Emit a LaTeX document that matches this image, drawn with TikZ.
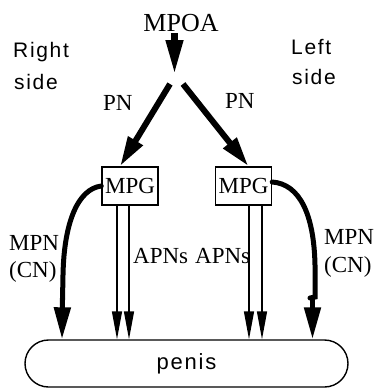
\documentclass[tikz,border=0pt]{standalone}
\usepackage{fontspec}
\setmainfont{Liberation Serif}
\newfontfamily\labelsans[LetterSpace=8]{Liberation Sans}
\usetikzlibrary{arrows.meta}
\begin{document}
\begin{tikzpicture}[x=1pt,y=-1pt,
  serif/.style={font=\fontsize{23}{26}\selectfont, inner sep=0pt},
  sidelabel/.style={font=\labelsans\fontsize{21}{24}\selectfont, inner sep=0pt, anchor=base west},
  ganglion/.style={draw, line width=1.4pt, minimum width=56pt, minimum height=38pt, inner sep=0pt,
    font=\fontsize{23}{26}\selectfont},
  nerve/.style={line width=6pt, -{Triangle[length=30pt,width=16pt]}},
  pelvic/.style={line width=5pt, line cap=round},
  pelvichead/.style={line width=5pt, -{Triangle[length=32pt,width=16pt]}},
  accessory/.style={line width=1.4pt, -{Triangle[length=28pt,width=10pt]}}
]
\useasboundingbox (0,0) rectangle (373,389);

% labels
\node[serif, font=\fontsize{26}{28}\selectfont, anchor=base] (mpoa) at (181,31) {MPOA};
\node[sidelabel] (right1) at (13,57) {Right};
\node[sidelabel] (right2) at (14,89) {side};
\node[sidelabel] (left1) at (291,54) {Left};
\node[sidelabel] (left2) at (292,84) {side};
\node[serif, anchor=base west] (pnL) at (103,110) {PN};
\node[serif, anchor=base west] (pnR) at (225,108) {PN};
\node[serif, anchor=base west] (mpnL) at (9,250) {MPN};
\node[serif, anchor=base west] (cnL) at (9,277) {(CN)};
\node[serif, anchor=base west] (mpnR) at (324,244) {MPN};
\node[serif, anchor=base west] (cnR) at (324,272) {(CN)};
\node[serif, anchor=base west] (apnL) at (133,263) {APNs};
\node[serif, anchor=base west] (apnR) at (195,263) {APNs};

% ganglia and target
\node[ganglion] (mpgL) at (130,186) {MPG};
\node[ganglion] (mpgR) at (243.5,186) {MPG};
\node[draw, line width=1.4pt, minimum width=323pt, minimum height=47pt, rounded corners=23.5pt,
  font=\labelsans\fontsize{22}{26}\selectfont] (penis) at (186.5,363.5) {penis};

% descending pathway from MPOA
\coordinate (mpoaOut) at (174.5,33);
\coordinate (fork) at (174.5,75);
\coordinate (forkL) at (170,84);
\coordinate (forkR) at (183,84);
\draw[line width=7pt, -{Triangle[length=35pt,width=16pt]}] (mpoaOut) -- (fork);
\draw[nerve] (forkL) -- ([xshift=-10pt]mpgL.north);
\draw[nerve] (forkR) -- ([xshift=5pt]mpgR.north);

% accessory pelvic nerves
\foreach \g/\dx in {mpgL/-13, mpgL/-1, mpgR/5.5, mpgR/18.5}{
  \draw[accessory] ([xshift=\dx pt]\g.south) -- ([xshift=\dx pt]\g.south |- penis.north);
}

% major pelvic nerves (cavernous nerves)
\coordinate (lx) at (62,0);
\coordinate (rx) at (312.5,0);
\draw[pelvic] (mpgL.west) .. controls (78,189) and (64,222) .. (63,275)
  -- (62.5,300);
\draw[pelvichead] (62.5,298) -- (lx |- penis.north);
\draw[pelvic] ([yshift=4pt]mpgR.east) .. controls (300,184) and (314,215) .. (315,265)
  -- (315,297) -- (310,298);
\draw[pelvichead] (312.5,298) -- (rx |- penis.north);
\end{tikzpicture}
\end{document}
